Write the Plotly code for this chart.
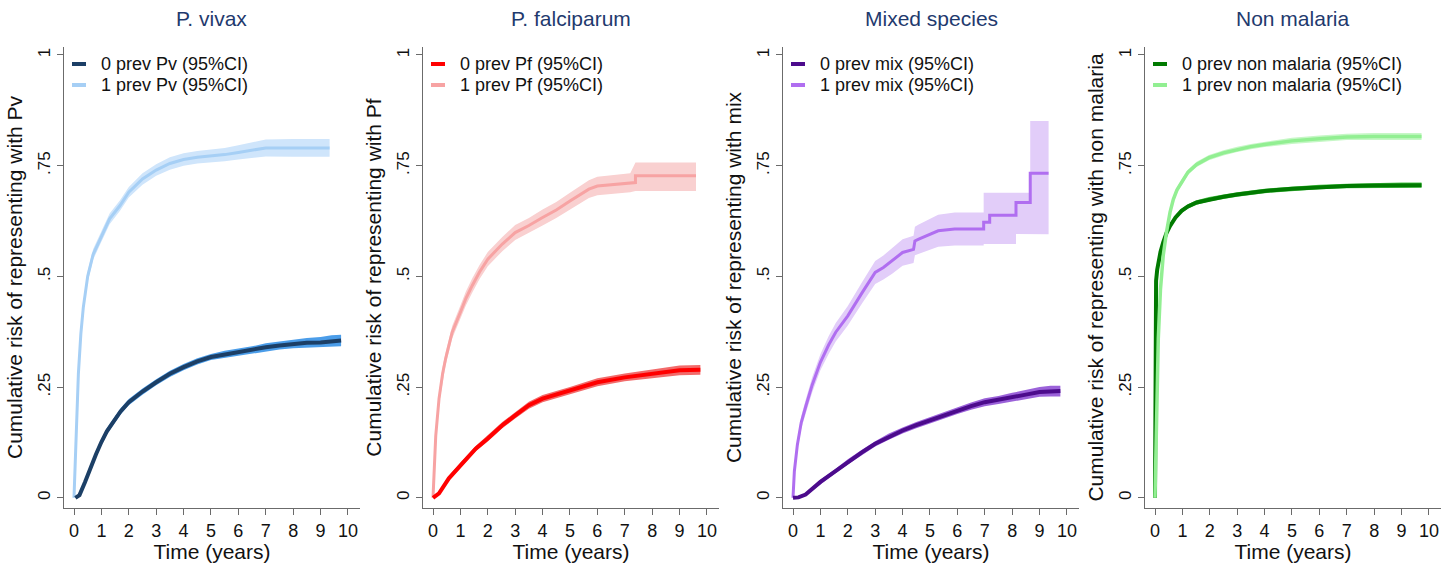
import plotly.graph_objects as go

W, H = 1451, 563

# ---------------- data ----------------
panel_titles = ["P. vivax", "P. falciparum", "Mixed species", "Non malaria"]
y_titles = ["Cumulative risk of representing with Pv",
            "Cumulative risk of representing with Pf",
            "Cumulative risk of representing with mix",
            "Cumulative risk of representing with non malaria"]
legend_0 = ["0 prev Pv (95%CI)", "0 prev Pf (95%CI)", "0 prev mix (95%CI)", "0 prev non malaria (95%CI)"]
legend_1 = ["1 prev Pv (95%CI)", "1 prev Pf (95%CI)", "1 prev mix (95%CI)", "1 prev non malaria (95%CI)"]
x_ticks = [0, 1, 2, 3, 4, 5, 6, 7, 8, 9, 10]
y_ticks = [0, 0.25, 0.5, 0.75, 1]
y_tick_labels = ["0", ".25", ".5", ".75", "1"]

# P. vivax, 0 previous
pv0_t = [0.05, 0.2, 0.4, 0.58, 0.8, 1.0, 1.2, 1.43, 1.7, 2.0, 2.5, 3.0, 3.5, 4.0, 4.5, 5.0, 5.5, 6.0, 6.5, 7.0, 7.5, 8.0, 8.5, 9.0, 9.4, 9.75]
pv0_v = [0.0, 0.006, 0.035, 0.066, 0.098, 0.126, 0.15, 0.171, 0.195, 0.216, 0.24, 0.261, 0.28, 0.295, 0.308, 0.318, 0.324, 0.329, 0.334, 0.34, 0.344, 0.348, 0.35, 0.351, 0.354, 0.355]
pv0_ci = [0.0, 0.003, 0.005, 0.006, 0.006, 0.007, 0.007, 0.007, 0.007, 0.007, 0.007, 0.007, 0.007, 0.007, 0.007, 0.007, 0.008, 0.008, 0.008, 0.009, 0.009, 0.01, 0.011, 0.012, 0.013, 0.013]
# P. vivax, 1 previous
pv1_t = [0.0, 0.05, 0.1, 0.16, 0.25, 0.34, 0.5, 0.7, 1.0, 1.3, 1.68, 2.0, 2.5, 3.0, 3.5, 4.0, 4.5, 5.0, 5.5, 6.0, 6.5, 7.0, 8.0, 9.0, 9.33]
pv1_v = [0.0, 0.1, 0.2, 0.28, 0.37, 0.43, 0.5, 0.55, 0.59, 0.63, 0.66, 0.69, 0.72, 0.74, 0.755, 0.764, 0.769, 0.772, 0.775, 0.78, 0.785, 0.79, 0.79, 0.79, 0.79]
pv1_ci = [0.0, 0.006, 0.008, 0.009, 0.01, 0.011, 0.012, 0.012, 0.012, 0.012, 0.012, 0.012, 0.013, 0.013, 0.014, 0.014, 0.014, 0.015, 0.015, 0.016, 0.017, 0.019, 0.02, 0.02, 0.02]

# P. falciparum, 0 previous
pf0_t = [0.0, 0.22, 0.58, 1.0, 1.56, 2.0, 2.53, 3.0, 3.5, 4.0, 5.0, 6.0, 7.0, 8.0, 9.0, 9.76]
pf0_v = [0.0, 0.01, 0.044, 0.074, 0.111, 0.134, 0.164, 0.186, 0.209, 0.224, 0.242, 0.261, 0.272, 0.28, 0.288, 0.289]
pf0_ci = [0.0, 0.003, 0.005, 0.006, 0.006, 0.007, 0.007, 0.007, 0.008, 0.008, 0.008, 0.009, 0.009, 0.01, 0.011, 0.011]
# P. falciparum, 1 previous
pf1_t = [0.0, 0.05, 0.1, 0.22, 0.35, 0.46, 0.7, 1.0, 1.2, 1.43, 1.7, 2.0, 2.53, 3.0, 3.5, 4.0, 4.5, 5.0, 5.69, 6.0, 7.2, 7.2, 7.39, 7.39, 9.6]
pf1_v = [0.0, 0.08, 0.14, 0.224, 0.28, 0.314, 0.374, 0.419, 0.45, 0.479, 0.51, 0.539, 0.573, 0.599, 0.615, 0.633, 0.65, 0.67, 0.697, 0.704, 0.712, 0.712, 0.712, 0.727, 0.727]
pf1_lo = [0.0, 0.07, 0.128, 0.21, 0.265, 0.3, 0.36, 0.404, 0.434, 0.463, 0.494, 0.523, 0.557, 0.582, 0.598, 0.615, 0.632, 0.651, 0.677, 0.683, 0.69, 0.69, 0.693, 0.693, 0.693]
pf1_hi = [0.0, 0.09, 0.152, 0.238, 0.295, 0.328, 0.388, 0.434, 0.466, 0.495, 0.526, 0.555, 0.589, 0.616, 0.632, 0.651, 0.668, 0.689, 0.717, 0.725, 0.733, 0.733, 0.757, 0.757, 0.757]

# Mixed species, 0 previous
mx0_t = [0.0, 0.2, 0.46, 0.7, 1.0, 1.5, 2.0, 2.5, 3.0, 3.5, 4.0, 4.5, 5.0, 5.5, 6.0, 6.5, 7.0, 7.5, 8.0, 8.5, 9.0, 9.4, 9.76]
mx0_v = [0.0, 0.001, 0.0075, 0.02, 0.036, 0.058, 0.081, 0.102, 0.122, 0.138, 0.152, 0.164, 0.175, 0.186, 0.197, 0.207, 0.216, 0.221, 0.227, 0.233, 0.239, 0.241, 0.241]
mx0_ci = [0.0, 0.002, 0.003, 0.004, 0.005, 0.005, 0.006, 0.006, 0.006, 0.007, 0.007, 0.007, 0.007, 0.008, 0.008, 0.008, 0.009, 0.009, 0.01, 0.01, 0.011, 0.012, 0.012]
# Mixed species, 1 previous
mx1_t = [0.0, 0.05, 0.16, 0.3, 0.46, 0.7, 1.0, 1.3, 1.56, 2.0, 2.53, 3.0, 3.3, 3.62, 4.0, 4.4, 4.45, 4.59, 5.0, 5.3, 5.9, 6.96, 6.96, 7.18, 7.18, 8.14, 8.14, 8.66, 8.66, 9.33]
mx1_v = [0.0, 0.06, 0.12, 0.17, 0.205, 0.255, 0.306, 0.345, 0.374, 0.411, 0.464, 0.509, 0.52, 0.535, 0.554, 0.561, 0.58, 0.584, 0.595, 0.603, 0.607, 0.607, 0.622, 0.622, 0.638, 0.638, 0.667, 0.667, 0.733, 0.733]
mx1_lo = [0.0, 0.05, 0.108, 0.156, 0.189, 0.238, 0.288, 0.325, 0.353, 0.389, 0.44, 0.483, 0.493, 0.506, 0.524, 0.53, 0.548, 0.551, 0.56, 0.567, 0.57, 0.57, 0.573, 0.573, 0.573, 0.573, 0.596, 0.596, 0.595, 0.595]
mx1_hi = [0.0, 0.07, 0.132, 0.184, 0.221, 0.272, 0.324, 0.365, 0.395, 0.433, 0.488, 0.535, 0.547, 0.564, 0.584, 0.592, 0.612, 0.617, 0.63, 0.639, 0.644, 0.644, 0.689, 0.689, 0.689, 0.689, 0.689, 0.689, 0.851, 0.851]

# Non malaria, 0 previous
nm0_t = [0.0, 0.01, 0.02, 0.04, 0.08, 0.12, 0.2, 0.3, 0.42, 0.55, 0.75, 0.97, 1.2, 1.52, 1.97, 2.5, 3.0, 4.0, 5.0, 6.0, 7.0, 8.0, 9.0, 9.73]
nm0_v = [0.0, 0.12, 0.3, 0.49, 0.515, 0.53, 0.555, 0.577, 0.598, 0.614, 0.633, 0.648, 0.658, 0.667, 0.674, 0.68, 0.685, 0.693, 0.698, 0.702, 0.704, 0.705, 0.706, 0.706]
nm0_ci = [0.0, 0.004, 0.005, 0.005, 0.005, 0.005, 0.005, 0.005, 0.005, 0.005, 0.005, 0.005, 0.005, 0.005, 0.005, 0.005, 0.005, 0.005, 0.005, 0.005, 0.005, 0.006, 0.006, 0.006]
# Non malaria, 1 previous
nm1_t = [0.0, 0.03, 0.06, 0.12, 0.2, 0.3, 0.42, 0.55, 0.67, 0.8, 0.97, 1.2, 1.52, 1.97, 2.5, 3.0, 3.5, 4.0, 5.0, 6.0, 7.0, 8.0, 9.0, 9.73]
nm1_v = [0.0, 0.1, 0.209, 0.359, 0.471, 0.547, 0.6, 0.645, 0.674, 0.695, 0.712, 0.735, 0.753, 0.768, 0.779, 0.787, 0.793, 0.798, 0.806, 0.811, 0.815, 0.816, 0.816, 0.816]
nm1_ci = [0.0, 0.005, 0.006, 0.006, 0.006, 0.006, 0.006, 0.006, 0.006, 0.006, 0.006, 0.006, 0.006, 0.006, 0.006, 0.006, 0.006, 0.006, 0.007, 0.007, 0.007, 0.008, 0.008, 0.008]

# ---------------- styling ----------------
FONT = "Liberation Sans, Arial, sans-serif"
AXIS_COL = "#6b6b6b"
TITLE_COL = "#1f3a6e"
TEXT_COL = "#111111"
line0_col = ["#1c3f66", "#ff0000", "#4c0b8c", "#007a00"]
band0_col = ["#4b9de9", "#f26b6b", "#9b62d9", "#4fc64f"]
line1_col = ["#a6cff5", "#f7a3a3", "#b06ef0", "#92ef92"]
band1_col = ["#cfe5fb", "#f9d0d0", "#e2cdf9", "#c6f7c6"]


def band(v, ci):
    return [a - b for a, b in zip(v, ci)], [a + b for a, b in zip(v, ci)]


series0 = [(pv0_t, pv0_v, *band(pv0_v, pv0_ci)),
           (pf0_t, pf0_v, *band(pf0_v, pf0_ci)),
           (mx0_t, mx0_v, *band(mx0_v, mx0_ci)),
           (nm0_t, nm0_v, *band(nm0_v, nm0_ci))]
series1 = [(pv1_t, pv1_v, *band(pv1_v, pv1_ci)),
           (pf1_t, pf1_v, pf1_lo, pf1_hi),
           (mx1_t, mx1_v, mx1_lo, mx1_hi),
           (nm1_t, nm1_v, *band(nm1_v, nm1_ci))]

left_px = [64, 423, 783, 1145]
panel_w = 296
top_px, bot_px = 47, 508

fig = go.Figure()


def add_series(k, t, v, lo, hi, lcol, bcol, lw):
    xa = "x" if k == 0 else f"x{k+1}"
    ya = "y" if k == 0 else f"y{k+1}"
    fig.add_trace(go.Scatter(x=t, y=lo, mode="lines", line=dict(width=0, color=bcol),
                             xaxis=xa, yaxis=ya, showlegend=False, hoverinfo="skip"))
    fig.add_trace(go.Scatter(x=t, y=hi, mode="lines", line=dict(width=0, color=bcol),
                             fill="tonexty", fillcolor=bcol, xaxis=xa, yaxis=ya,
                             showlegend=False, hoverinfo="skip"))
    fig.add_trace(go.Scatter(x=t, y=v, mode="lines", line=dict(width=lw, color=lcol),
                             xaxis=xa, yaxis=ya, showlegend=False))


for k in range(4):
    t1, v1, lo1, hi1 = series1[k]
    t0, v0, lo0, hi0 = series0[k]
    if k == 3:
        add_series(k, t0, v0, lo0, hi0, line0_col[k], band0_col[k], 4)
        add_series(k, t1, v1, lo1, hi1, line1_col[k], band1_col[k], 3.5)
    else:
        add_series(k, t1, v1, lo1, hi1, line1_col[k], band1_col[k], 3)
        add_series(k, t0, v0, lo0, hi0, line0_col[k], band0_col[k], 4)

layout = dict(width=W, height=H, margin=dict(l=0, r=0, t=0, b=0),
              paper_bgcolor="white", plot_bgcolor="white",
              font=dict(family=FONT, color=TEXT_COL), showlegend=False)

ydom = [(H - bot_px) / H, (H - top_px) / H]
annotations = []
shapes = []
for k in range(4):
    sx = "" if k == 0 else str(k + 1)
    x0 = left_px[k] / W
    x1 = (left_px[k] + panel_w) / W
    layout["xaxis" + sx] = dict(
        domain=[x0, x1], range=[-0.365, 10.44], anchor="y" + sx,
        tickvals=x_ticks, ticktext=[str(v) for v in x_ticks],
        showgrid=False, zeroline=False, showline=True, linecolor=AXIS_COL, linewidth=1,
        ticks="outside", ticklen=6, tickcolor=AXIS_COL, tickwidth=1,
        tickfont=dict(size=18, color=TEXT_COL),
        title=dict(text="Time (years)", font=dict(size=21, color=TEXT_COL), standoff=4))
    layout["yaxis" + sx] = dict(
        domain=ydom, range=[-0.023, 1.018], anchor="x" + sx,
        tickvals=y_ticks, ticktext=y_tick_labels, tickangle=-90,
        showgrid=False, zeroline=False, showline=True, linecolor=AXIS_COL, linewidth=1,
        ticks="outside", ticklen=6, tickcolor=AXIS_COL, tickwidth=1,
        tickfont=dict(size=17, color=TEXT_COL),
        title=dict(text=y_titles[k], font=dict(size=21, color=TEXT_COL), standoff=6))
    # panel title
    annotations.append(dict(text=panel_titles[k], x=(left_px[k] + panel_w / 2) / W, y=1 - 18 / H,
                            xref="paper", yref="paper", showarrow=False, xanchor="center",
                            yanchor="middle", font=dict(size=21, color=TITLE_COL)))
    # manual legend
    for j, (lab, col) in enumerate([(legend_0[k], line0_col[k]), (legend_1[k], line1_col[k])]):
        yy = 1 - (64 + 21 * j) / H
        shapes.append(dict(type="line", xref="paper", yref="paper",
                           x0=(left_px[k] + 8) / W, x1=(left_px[k] + 22) / W, y0=yy, y1=yy,
                           line=dict(color=col, width=4)))
        annotations.append(dict(text=lab, x=(left_px[k] + 35) / W, y=yy, xref="paper", yref="paper",
                                showarrow=False, xanchor="left", yanchor="middle",
                                font=dict(size=18, color=TEXT_COL)))

layout["annotations"] = annotations
layout["shapes"] = shapes
fig.update_layout(**layout)
fig.write_html("out.html")
